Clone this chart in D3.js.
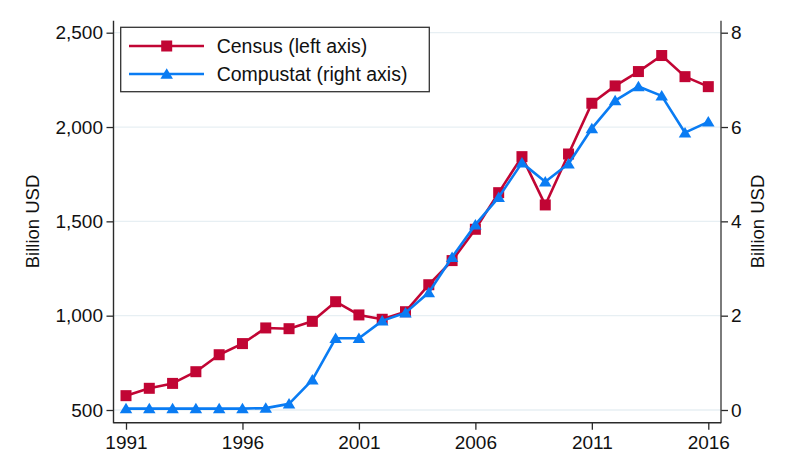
<!DOCTYPE html>
<html>
<head>
<meta charset="utf-8">
<script src="https://cdn.jsdelivr.net/npm/d3@7"></script>
<style>
  html, body { margin: 0; padding: 0; background: #fff; }
  svg { display: block; font-family: "Liberation Sans", Arial, sans-serif; }
</style>
</head>
<body>
<svg id="chart" width="785" height="459"></svg>
<script>
const years = d3.range(1991, 2017);
const census = [576, 615, 641, 703, 793, 852, 935, 931, 970, 1074, 1004, 981, 1021, 1164, 1292, 1458, 1652, 1843, 1587, 1857, 2126, 2218, 2294, 2379, 2267, 2214];
const compustat = [0.03, 0.03, 0.03, 0.03, 0.03, 0.03, 0.04, 0.13, 0.64, 1.52, 1.52, 1.89, 2.06, 2.49, 3.24, 3.93, 4.51, 5.24, 4.84, 5.22, 5.97, 6.56, 6.86, 6.66, 5.88, 6.11];
const xTicks = [1991, 1996, 2001, 2006, 2011, 2016];
const leftTicks = [500, 1000, 1500, 2000, 2500];
const rightTicks = [0, 2, 4, 6, 8];
const seriesNames = ["Census (left axis)", "Compustat (right axis)"];
const axisTitle = "Billion USD";

const red = "#c10534";
const blue = "#0a7cf3";
const axisColor = "#2a2a2a";

const svg = d3.select("#chart");
const L = 113.5, R = 721, T = 20.7, B = 422.7;

const x = d3.scaleLinear().domain([1991, 2016]).range([126, 708.3]);
const yL = d3.scaleLinear().domain([500, 2500]).range([410, 32.7]);
const yR = d3.scaleLinear().domain([0, 8]).range([410, 32.7]);

// grid
svg.append("g").selectAll("line").data(leftTicks).join("line")
  .attr("x1", L).attr("x2", R)
  .attr("y1", d => yL(d)).attr("y2", d => yL(d))
  .attr("stroke", "#e7eff3").attr("stroke-width", 1.3);

// axes
const fmt = d3.format(",");
const gL = svg.append("g").attr("transform", `translate(${L},0)`)
  .call(d3.axisLeft(yL).tickValues(leftTicks).tickSize(7).tickPadding(3.5).tickFormat(fmt).tickSizeOuter(0));
const gR = svg.append("g").attr("transform", `translate(${R},0)`)
  .call(d3.axisRight(yR).tickValues(rightTicks).tickSize(7).tickPadding(3).tickFormat(d3.format("d")).tickSizeOuter(0));
const gB = svg.append("g").attr("transform", `translate(0,${B})`)
  .call(d3.axisBottom(x).tickValues(xTicks).tickSize(7).tickPadding(5.5).tickFormat(d3.format("d")).tickSizeOuter(0));

[gL, gR, gB].forEach(g => {
  g.select(".domain").remove();
  g.selectAll(".tick line").attr("stroke", axisColor).attr("stroke-width", 1.3);
  g.selectAll(".tick text").attr("fill", "#111").style("font-size", "19px")
    .style("font-family", '"Liberation Sans", Arial, sans-serif');
});

// frame lines
svg.append("line").attr("x1", L).attr("x2", L).attr("y1", T).attr("y2", B + 0.6)
  .attr("stroke", axisColor).attr("stroke-width", 1.4);
svg.append("line").attr("x1", R).attr("x2", R).attr("y1", T).attr("y2", B + 0.6)
  .attr("stroke", "#444").attr("stroke-width", 1.4);
svg.append("line").attr("x1", L).attr("x2", R).attr("y1", B).attr("y2", B)
  .attr("stroke", axisColor).attr("stroke-width", 1.4);

// axis titles
svg.append("text").attr("transform", "translate(39,221.5) rotate(-90)")
  .attr("text-anchor", "middle").style("font-size", "18.5px").attr("fill", "#111").text(axisTitle);
svg.append("text").attr("transform", "translate(764,221.5) rotate(-90)")
  .attr("text-anchor", "middle").style("font-size", "18.5px").attr("fill", "#111").text(axisTitle);

// markers
const sq = 11;
function square(g, cx, cy, color) {
  g.append("rect").attr("x", cx - sq / 2).attr("y", cy - sq / 2)
    .attr("width", sq).attr("height", sq).attr("fill", color);
}
function triangle(g, cx, cy, color) {
  const w = 12.5, h = 10.5;
  g.append("path")
    .attr("d", `M${cx},${cy - h * 0.55}L${cx + w / 2},${cy + h * 0.45}L${cx - w / 2},${cy + h * 0.45}Z`)
    .attr("fill", color);
}

const line = (ys) => d3.line().x((d, i) => x(years[i])).y(d => ys(d));

// census
svg.append("path").datum(census).attr("d", line(yL))
  .attr("fill", "none").attr("stroke", red).attr("stroke-width", 2.6).attr("stroke-linejoin", "round");
const gc = svg.append("g");
census.forEach((v, i) => square(gc, x(years[i]), yL(v), red));

// compustat
svg.append("path").datum(compustat).attr("d", line(yR))
  .attr("fill", "none").attr("stroke", blue).attr("stroke-width", 2.6).attr("stroke-linejoin", "round");
const gp = svg.append("g");
compustat.forEach((v, i) => triangle(gp, x(years[i]), yR(v), blue));

// legend
const lg = svg.append("g");
lg.append("rect").attr("x", 120.7).attr("y", 27.3).attr("width", 308.6).attr("height", 64.4)
  .attr("fill", "#fff").attr("stroke", "#333").attr("stroke-width", 1.3);
const rows = [{ name: seriesNames[0], color: red, y: 46, m: square },
              { name: seriesNames[1], color: blue, y: 74, m: triangle }];
rows.forEach(r => {
  lg.append("line").attr("x1", 129).attr("x2", 204).attr("y1", r.y).attr("y2", r.y)
    .attr("stroke", r.color).attr("stroke-width", 2.6);
  r.m(lg, 166.7, r.y, r.color);
  lg.append("text").attr("x", 216.7).attr("y", r.y).attr("dy", "0.36em")
    .style("font-size", "19.5px").attr("fill", "#111").text(r.name);
});
</script>
</body>
</html>
